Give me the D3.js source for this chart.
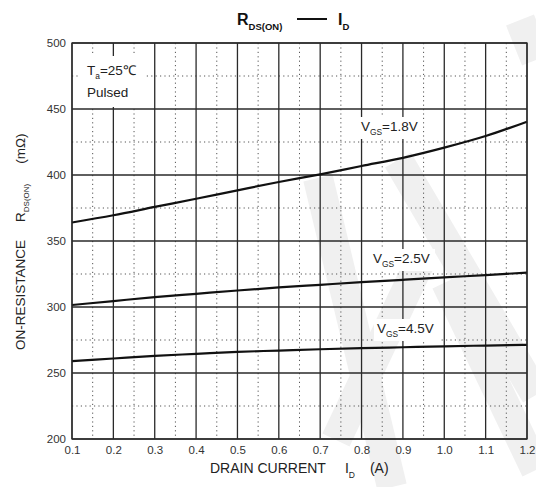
<!DOCTYPE html>
<html>
<head>
<meta charset="utf-8">
<script src="https://cdn.jsdelivr.net/npm/d3@7/dist/d3.min.js"></script>
<style>
  html, body { margin: 0; padding: 0; background: #fff; }
  svg { display: block; font-family: "Liberation Sans", Arial, sans-serif; }
</style>
</head>
<body>
<svg id="chart" width="536" height="487"></svg>
<script>
// Drain current (A)
const currents = [0.1, 0.2, 0.3, 0.4, 0.5, 0.6, 0.7, 0.8, 0.9, 1.0, 1.1, 1.2];
// On-resistance (mΩ) for each gate voltage
const rdsVgs18 = [364, 369.5, 375.8, 382, 388.4, 394.7, 400.5, 406.8, 413, 420.7, 429.5, 440.4];
const rdsVgs25 = [301.5, 304.5, 307.5, 310, 312.5, 314.8, 316.8, 318.8, 320.6, 322.4, 324.2, 326];
const rdsVgs45 = [259, 261, 263, 264.5, 266, 267, 268, 268.8, 269.5, 270.2, 270.8, 271.3];
const seriesNames = ["1.8V", "2.5V", "4.5V"];
const xTickLabels = ["0.1", "0.2", "0.3", "0.4", "0.5", "0.6", "0.7", "0.8", "0.9", "1.0", "1.1", "1.2"];
const yTickValues = [200, 250, 300, 350, 400, 450, 500];

const svg = d3.select("#chart");
const x = d3.scaleLinear().domain([0.1, 1.2]).range([72, 527]);
const y = d3.scaleLinear().domain([200, 500]).range([439, 43]);

// faint background logo
const wm = svg.append("g").attr("stroke", "#f0f0f0").attr("stroke-linecap", "butt").attr("fill", "none");
[
  [[318, 178], [392, 487]],
  [[398, 160], [536, 395]],
  [[420, 262], [336, 440]],
  [[446, 282], [536, 470]],
  [[520, 20], [536, 60]]
].forEach(s => wm.append("line")
  .attr("x1", s[0][0]).attr("y1", s[0][1]).attr("x2", s[1][0]).attr("y2", s[1][1])
  .attr("stroke-width", 30));

// grid
const grid = svg.append("g");
const minorX = d3.range(0.15, 1.2, 0.1);
const minorY = d3.range(225, 500, 50);
grid.selectAll(".mx").data(minorX).join("line")
  .attr("x1", d => x(d)).attr("x2", d => x(d)).attr("y1", y(500)).attr("y2", y(200))
  .attr("stroke", "#555").attr("stroke-width", 1).attr("stroke-dasharray", "1.2,3.2");
grid.selectAll(".my").data(minorY).join("line")
  .attr("x1", x(0.1)).attr("x2", x(1.2)).attr("y1", d => y(d)).attr("y2", d => y(d))
  .attr("stroke", "#555").attr("stroke-width", 1).attr("stroke-dasharray", "1.2,3.2");
grid.selectAll(".Mx").data(currents).join("line")
  .attr("x1", d => x(d)).attr("x2", d => x(d)).attr("y1", y(500)).attr("y2", y(200))
  .attr("stroke", "#2a2a2a").attr("stroke-width", 1.3);
grid.selectAll(".My").data(yTickValues).join("line")
  .attr("x1", x(0.1)).attr("x2", x(1.2)).attr("y1", d => y(d)).attr("y2", d => y(d))
  .attr("stroke", "#2a2a2a").attr("stroke-width", 1.3);

// axes (labels only; grid draws the lines)
const xAxis = svg.append("g").attr("transform", `translate(0,${y(200)})`)
  .call(d3.axisBottom(x).tickValues(currents).tickFormat((d, i) => xTickLabels[i]).tickSize(0).tickPadding(7));
const yAxis = svg.append("g").attr("transform", `translate(${x(0.1)},0)`)
  .call(d3.axisLeft(y).tickValues(yTickValues).tickSize(0).tickPadding(6));
[xAxis, yAxis].forEach(a => {
  a.select(".domain").remove();
  a.selectAll("text").attr("font-size", 11.5).attr("fill", "#333")
    .attr("font-family", "'Liberation Sans', Arial, sans-serif");
});

// text with sub/superscript parts
function label(g, xPos, yPos, parts, size) {
  const t = g.append("text").attr("x", xPos).attr("y", yPos).attr("font-size", size).attr("fill", "#222");
  parts.forEach(p => {
    const ts = t.append("tspan").text(p.t);
    if (p.sub) ts.attr("font-size", size * 0.62).attr("dy", size * 0.3);
    if (p.up) ts.attr("dy", -size * 0.3);
  });
  return t;
}

const ann = svg.append("g");
ann.append("rect").attr("x", 80).attr("y", 56).attr("width", 66).attr("height", 51).attr("fill", "#fff");
label(ann, 87, 75, [{t: "T"}, {t: "a", sub: true}, {t: "=25℃", up: true}], 13.5);
label(ann, 87, 97, [{t: "Pulsed"}], 13.5);

// curves
const line = d3.line().x((d, i) => x(currents[i])).y(d => y(d)).curve(d3.curveMonotoneX);
const series = [rdsVgs18, rdsVgs25, rdsVgs45];

// gate-voltage labels
const vLabelPos = [[361, 131], [373, 263], [377, 333]];
seriesNames.forEach((n, i) => {
  const [lx, ly] = vLabelPos[i];
  ann.append("rect").attr("x", lx - 3).attr("y", ly - 14).attr("width", 65).attr("height", 22).attr("fill", "#fff");
  label(ann, lx, ly, [{t: "V"}, {t: "GS", sub: true}, {t: "=" + n, up: true}], 13.5);
});

svg.append("g").selectAll("path").data(series).join("path")
  .attr("d", line).attr("fill", "none").attr("stroke", "#111").attr("stroke-width", 2.2);

// plot frame
svg.append("rect").attr("x", x(0.1)).attr("y", y(500)).attr("width", x(1.2) - x(0.1)).attr("height", y(200) - y(500))
  .attr("fill", "none").attr("stroke", "#2a2a2a").attr("stroke-width", 1.3);

// title
const title = svg.append("text").attr("x", 237).attr("y", 25).attr("font-weight", "bold").attr("font-size", 16).attr("fill", "#111");
title.append("tspan").text("R");
title.append("tspan").text("DS(ON)").attr("font-size", 9.5).attr("dy", 5);
svg.append("line").attr("x1", 297).attr("x2", 327).attr("y1", 19).attr("y2", 19).attr("stroke", "#111").attr("stroke-width", 2);
const t2 = svg.append("text").attr("x", 338).attr("y", 25).attr("font-weight", "bold").attr("font-size", 16).attr("fill", "#111");
t2.append("tspan").text("I");
t2.append("tspan").text("D").attr("font-size", 9.5).attr("dy", 5);

// x-axis title
const xt = svg.append("text").attr("x", 210).attr("y", 473).attr("font-size", 14).attr("fill", "#222");
xt.append("tspan").text("DRAIN CURRENT");
xt.append("tspan").text("I").attr("dx", 19);
xt.append("tspan").text("D").attr("font-size", 8.5).attr("dy", 5);
xt.append("tspan").text("(A)").attr("dx", 15).attr("dy", -5);

// y-axis title
const yt = svg.append("text").attr("transform", "translate(25,350) rotate(-90)").attr("font-size", 13.5).attr("fill", "#222");
yt.append("tspan").text("ON-RESISTANCE");
yt.append("tspan").text("R").attr("dx", 18);
yt.append("tspan").text("DS(ON)").attr("font-size", 8).attr("dy", 4);
yt.append("tspan").text("(mΩ)").attr("dx", 20).attr("dy", -4);
</script>
</body>
</html>
